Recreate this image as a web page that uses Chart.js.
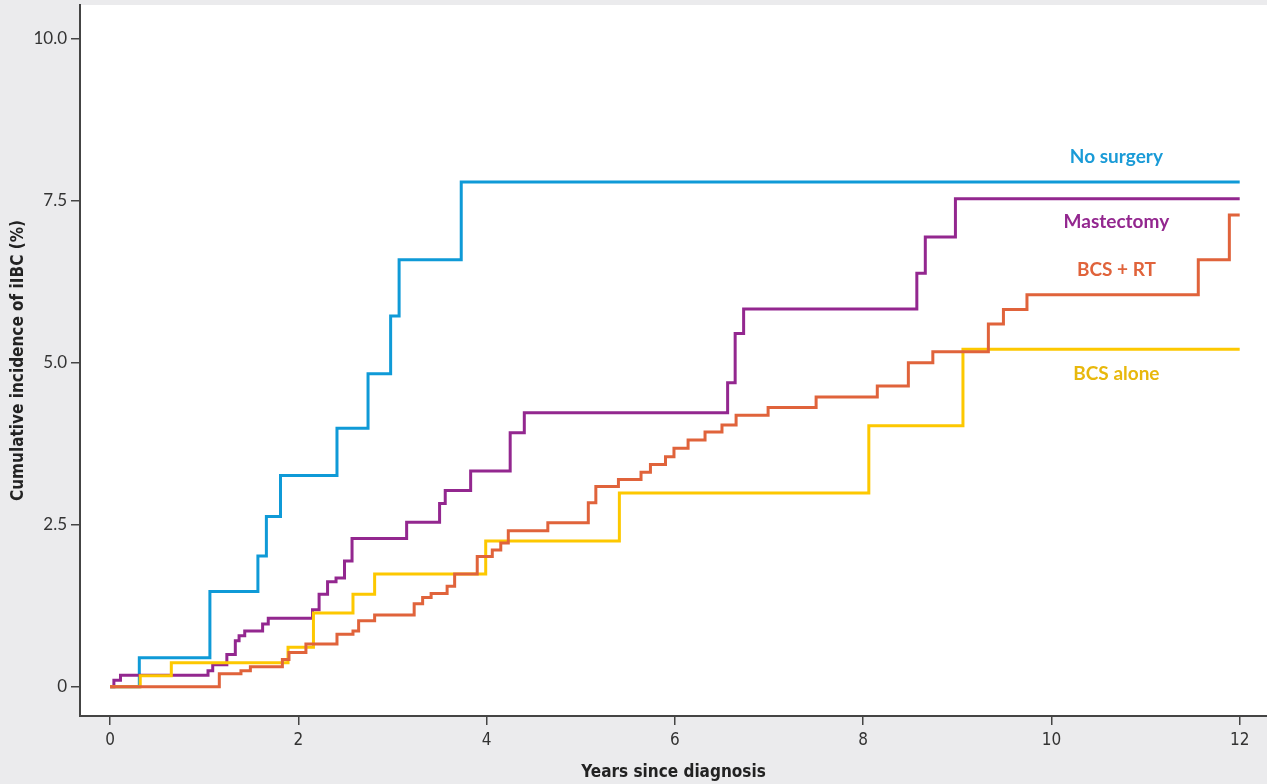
<!DOCTYPE html>
<html>
<head>
<meta charset="utf-8">
<script src="https://cdn.jsdelivr.net/npm/chart.js@4"></script>
<style>
  html, body { margin: 0; padding: 0; background: #ebebed; }
  #wrap { width: 1267px; height: 784px; }
</style>
</head>
<body>
<div id="wrap"><canvas id="incidenceChart" width="1267" height="784"></canvas></div>
<script>
// step curves: year of each jump and the cumulative incidence (%) after it
const noSurgeryYears = [0, 0.31, 1.06, 1.57, 1.66, 1.81, 2.41, 2.74, 2.98, 3.07, 3.73, 12];
const noSurgeryPct   = [0, 0.45, 1.47, 2.02, 2.63, 3.26, 3.99, 4.83, 5.72, 6.59, 7.79, 7.79];

const mastectomyYears = [0, 0.04, 0.11, 1.04, 1.09, 1.24, 1.33, 1.37, 1.43, 1.62, 1.68, 2.15, 2.22, 2.31, 2.40, 2.49, 2.57, 3.15, 3.50, 3.56, 3.83, 4.25, 4.40, 6.56, 6.64, 6.73, 8.57, 8.66, 8.98, 12];
const mastectomyPct   = [0, 0.10, 0.18, 0.25, 0.34, 0.50, 0.71, 0.79, 0.86, 0.97, 1.06, 1.19, 1.43, 1.62, 1.68, 1.94, 2.29, 2.54, 2.83, 3.03, 3.33, 3.92, 4.23, 4.69, 5.45, 5.83, 6.38, 6.94, 7.53, 7.53];

const bcsRtYears = [0, 1.16, 1.39, 1.49, 1.83, 1.90, 2.08, 2.41, 2.58, 2.64, 2.81, 3.23, 3.32, 3.41, 3.58, 3.66, 3.90, 4.06, 4.15, 4.23, 4.65, 5.08, 5.16, 5.40, 5.64, 5.74, 5.90, 5.99, 6.14, 6.32, 6.50, 6.65, 6.99, 7.50, 8.15, 8.48, 8.74, 9.33, 9.49, 9.74, 11.56, 11.89, 12];
const bcsRtPct   = [0, 0.20, 0.25, 0.31, 0.42, 0.53, 0.66, 0.81, 0.86, 1.02, 1.11, 1.28, 1.38, 1.44, 1.55, 1.74, 2.01, 2.11, 2.22, 2.41, 2.53, 2.84, 3.09, 3.20, 3.31, 3.43, 3.55, 3.68, 3.81, 3.93, 4.04, 4.19, 4.31, 4.47, 4.64, 5.00, 5.17, 5.60, 5.82, 6.05, 6.59, 7.28, 7.28];

const bcsAloneYears = [0, 0.32, 0.65, 1.89, 2.16, 2.58, 2.81, 3.99, 5.41, 8.06, 9.06, 12];
const bcsAlonePct   = [0, 0.17, 0.37, 0.61, 1.14, 1.43, 1.74, 2.25, 2.99, 4.03, 5.21, 5.21];

const seriesNames = ['No surgery', 'Mastectomy', 'BCS + RT', 'BCS alone'];
const xTicks = [0, 2, 4, 6, 8, 10, 12];
const yTicks = [0, 2.5, 5, 7.5, 10];

const lineColors = ['#0f9ad7', '#93278f', '#e0633b', '#fdc800'];
const textColors = ['#1a9bd7', '#93278f', '#e0633b', '#e8b80c'];
// higher = drawn further down (orange ends up on top, blue at the bottom)
const drawOrder = [3, 2, 0, 1];
// where the series names sit, in data units
const labelX = 10.69;
const labelY = [8.18, 7.18, 6.44, 4.83];

const condensed = "'Liberation Sans Narrow', 'DejaVu Sans Condensed', 'Roboto', sans-serif";

function toPoints(xs, ys) {
  return xs.map((x, i) => ({ x: x, y: ys[i] }));
}

const curves = [
  toPoints(noSurgeryYears, noSurgeryPct),
  toPoints(mastectomyYears, mastectomyPct),
  toPoints(bcsRtYears, bcsRtPct),
  toPoints(bcsAloneYears, bcsAlonePct)
];

const plotBackground = {
  id: 'plotBackground',
  beforeDraw(chart) {
    const { ctx, chartArea } = chart;
    ctx.save();
    ctx.fillStyle = '#ffffff';
    ctx.fillRect(chartArea.left, chartArea.top, chartArea.right - chartArea.left, chartArea.bottom - chartArea.top);
    ctx.restore();
  }
};

const seriesLabels = {
  id: 'seriesLabels',
  afterDatasetsDraw(chart) {
    const { ctx, scales } = chart;
    ctx.save();
    ctx.font = 'bold 19px Lato';
    ctx.textAlign = 'center';
    ctx.textBaseline = 'middle';
    seriesNames.forEach((name, i) => {
      ctx.fillStyle = textColors[i];
      ctx.fillText(name, scales.x.getPixelForValue(labelX), scales.y.getPixelForValue(labelY[i]));
    });
    ctx.restore();
  }
};

const ctx = document.getElementById('incidenceChart').getContext('2d');
new Chart(ctx, {
  type: 'line',
  data: {
    datasets: curves.map((pts, i) => ({
      label: seriesNames[i],
      data: pts,
      order: drawOrder[i],
      borderColor: lineColors[i],
      borderWidth: 3,
      stepped: 'before',
      pointRadius: 0,
      fill: false
    }))
  },
  options: {
    responsive: false,
    animation: false,
    layout: { padding: { top: 5, right: 0, left: 0, bottom: 0 } },
    plugins: {
      legend: { display: false },
      tooltip: { enabled: false }
    },
    scales: {
      x: {
        type: 'linear',
        min: -0.32,
        max: 12.29,
        afterBuildTicks: s => { s.ticks = xTicks.map(v => ({ value: v })); },
        afterFit: s => { s.height = 68; s.paddingLeft = 0; s.paddingRight = 0; },
        grid: { display: true, drawOnChartArea: false, drawTicks: true, tickLength: 9, color: '#444', lineWidth: 1.5 },
        border: { display: true, color: '#444', width: 2 },
        ticks: {
          color: '#333',
          padding: 5,
          maxRotation: 0,
          font: { family: condensed, size: 17 },
          callback: v => String(v)
        },
        title: {
          display: true,
          text: 'Years since diagnosis',
          color: '#222',
          font: { family: condensed, size: 17, weight: 'bold' },
          padding: { top: 0, bottom: 1 }
        }
      },
      y: {
        type: 'linear',
        min: -0.45,
        max: 10.52,
        afterBuildTicks: s => { s.ticks = yTicks.map(v => ({ value: v })); },
        afterFit: s => { s.width = 80; s.paddingTop = 0; s.paddingBottom = 0; },
        grid: { display: true, drawOnChartArea: false, drawTicks: true, tickLength: 9, color: '#444', lineWidth: 1.5 },
        border: { display: true, color: '#444', width: 2 },
        ticks: {
          color: '#333',
          padding: 4,
          font: { family: 'Lato', size: 17 },
          callback: v => (v === 0 ? '0' : v.toFixed(1))
        },
        title: {
          display: true,
          text: 'Cumulative incidence of iIBC (%)',
          color: '#222',
          font: { family: condensed, size: 17, weight: 'bold' },
          padding: { top: 8, bottom: 0 }
        }
      }
    }
  },
  plugins: [plotBackground, seriesLabels]
});
</script>
</body>
</html>
